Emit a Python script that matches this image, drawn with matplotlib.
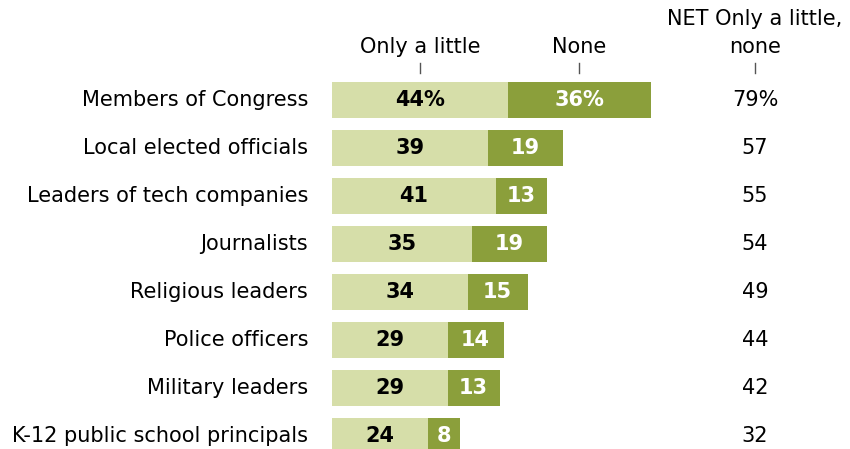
import numpy as np
import matplotlib.pyplot as plt

plt.rcParams['font.family'] = ['DejaVu Sans']

groups = ["Members of Congress", "Local elected officials", "Leaders of tech companies",
          "Journalists", "Religious leaders", "Police officers", "Military leaders",
          "K-12 public school principals"]
little = [44, 39, 41, 35, 34, 29, 29, 24]
none_ = [36, 19, 13, 19, 15, 14, 13, 8]
net = [79, 57, 55, 54, 49, 44, 42, 32]

light = "#d6dea9"
dark = "#8b9f3b"
fs = 15

fig = plt.figure(figsize=(8.5, 4.49), dpi=100)
ax = fig.add_axes([0, 0, 1, 1])
px = 3.99  # pixels per percentage point
ax.set_xlim(-332 / px, (850 - 332) / px)
ax.set_ylim((449 - 100) / 48, -100 / 48)
ax.axis("off")

y = np.arange(len(groups))
ax.barh(y, little, height=0.77, color=light)
ax.barh(y, none_, left=little, height=0.77, color=dark)

net_x = (755 - 332) / px
for i in range(len(groups)):
    a, b = little[i], none_[i]
    sa = f"{a}%" if i == 0 else str(a)
    sb = f"{b}%" if i == 0 else str(b)
    ax.text(a / 2, i, sa, ha="center", va="center", fontsize=fs, fontweight="bold", color="black")
    ax.text(a + b / 2, i, sb, ha="center", va="center", fontsize=fs, fontweight="bold", color="white")
    ax.text(net_x, i, f"{net[i]}%" if i == 0 else str(net[i]), ha="center", va="center",
            fontsize=fs, color="black")
    ax.text(-24 / px, i, groups[i], ha="right", va="center", fontsize=fs, color="black")

# column headers with small tick marks
hy = (47 - 100) / 48
t0, t1 = (63 - 100) / 48, (73 - 100) / 48
for xc, lab in [(little[0] / 2, "Only a little"), (little[0] + none_[0] / 2, "None")]:
    ax.text(xc, hy, lab, ha="center", va="center", fontsize=fs)
    ax.plot([xc, xc], [t0, t1], color="#555555", lw=1)
ax.text(net_x, (33 - 100) / 48, "NET Only a little,\nnone", ha="center", va="center",
        fontsize=fs, linespacing=1.45)
ax.plot([net_x, net_x], [t0, t1], color="#555555", lw=1)

fig.savefig("out.png", dpi=100)
